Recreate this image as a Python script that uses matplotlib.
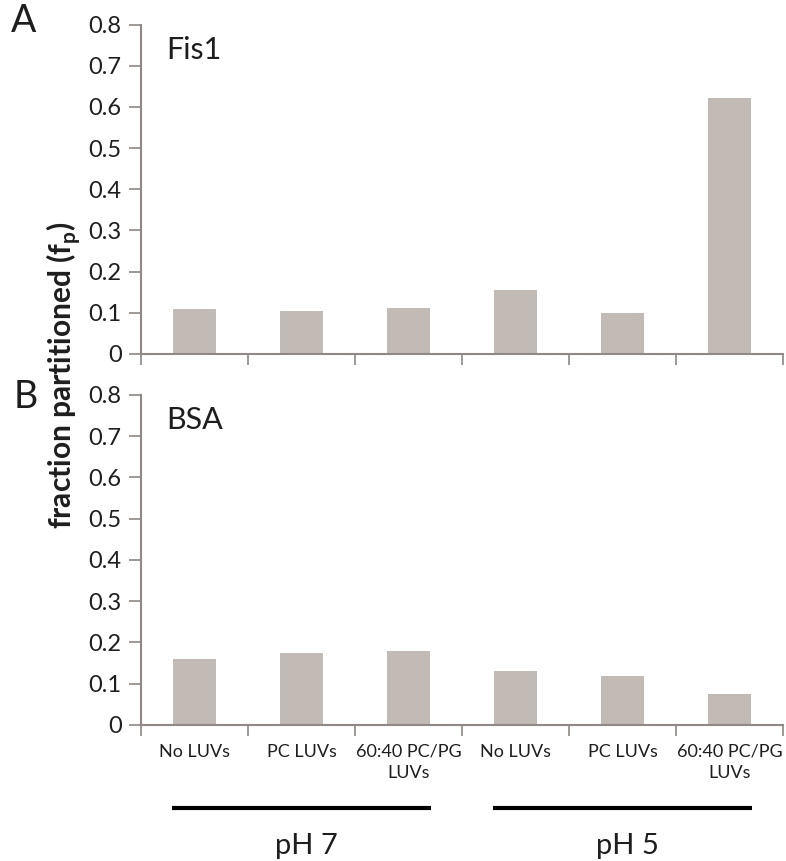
import matplotlib
matplotlib.use("Agg")
import matplotlib.pyplot as plt
import matplotlib.transforms as mtrans
import numpy as np

plt.rcParams['font.family'] = ['Lato', 'DejaVu Sans']
plt.rcParams['mathtext.fontset'] = 'custom'
plt.rcParams['mathtext.rm'] = 'Lato'
plt.rcParams['mathtext.bf'] = 'Lato:bold'

# conditions along the x axis
conditions = ["No LUVs", "PC LUVs", "60:40 PC/PG\nLUVs",
              "No LUVs", "PC LUVs", "60:40 PC/PG\nLUVs"]
ph_groups = ["pH 7", "pH 5"]

# fraction partitioned for each protein
fis1_fp = [0.108, 0.104, 0.112, 0.156, 0.100, 0.621]
bsa_fp = [0.161, 0.174, 0.179, 0.130, 0.118, 0.075]

bar_color = "#c2bab5"
axis_color = "#8f8884"
text_color = "#1e1e1e"

fig = plt.figure(figsize=(7.86, 8.61), dpi=100)
ax_top = fig.add_axes([0.1794, 0.5889, 0.8168, 0.3825])
ax_bot = fig.add_axes([0.1794, 0.1580, 0.8168, 0.3833])

x = np.arange(len(conditions))

def style_axis(ax, values, name):
  ax.bar(x, values, width=0.4, color=bar_color, edgecolor="none")
  ax.set_xlim(-0.5, len(conditions) - 0.5)
  ax.set_ylim(0, 0.8)
  ax.set_yticks(np.arange(0, 0.81, 0.1))
  ax.set_yticklabels(["0"] + ["%.1f" % v for v in np.arange(0.1, 0.81, 0.1)])
  ax.set_xticks(np.arange(-0.5, len(conditions)), minor=True)
  ax.set_xticks([])
  ax.tick_params(axis="y", direction="out", length=9, width=1.2,
                 color=axis_color, labelsize=17, labelcolor=text_color, pad=5)
  ax.tick_params(axis="x", which="minor", direction="out", length=8, width=1.2,
                 color=axis_color)
  for side in ["top", "right"]:
    ax.spines[side].set_visible(False)
  for side in ["left", "bottom"]:
    ax.spines[side].set_color(axis_color)
    ax.spines[side].set_linewidth(1.5)
  ax.text(0.04, 0.965, name, transform=ax.transAxes, fontsize=22,
          color=text_color, va="top", ha="left")

style_axis(ax_top, fis1_fp, "Fis1")
style_axis(ax_bot, bsa_fp, "BSA")

# category labels under the lower panel
for xi, label in zip(x, conditions):
  ax_bot.text(xi, -0.045, label, ha="center", va="top", fontsize=13,
              color=text_color, linespacing=1.4, clip_on=False)

# pH group bars and labels
trans = mtrans.blended_transform_factory(ax_bot.transData, fig.transFigure)
for i, group in enumerate(ph_groups):
  centre = 1 + 3 * i
  ax_bot.plot([centre - 1.21, centre + 1.21], [1 - 808 / 861.0] * 2, color="black",
              lw=3, transform=trans, clip_on=False, solid_capstyle="butt")
  fig.text(centre + 0.05, 1 - 846 / 861.0, group, fontsize=21, color=text_color,
           ha="center", va="center", transform=trans)

fig.text(0.014, 1 - 21 / 861.0, "A", fontsize=27, color=text_color, va="center", ha="left")
fig.text(0.017, 1 - 397 / 861.0, "B", fontsize=27, color=text_color, va="center", ha="left")

fig.text(0.081, 1 - 375 / 861.0, r"fraction partitioned (f$_\mathbf{p}$)",
         rotation=90, fontsize=21.5, fontweight="bold", color=text_color,
         ha="center", va="center")

fig.savefig("out.png", dpi=100)
